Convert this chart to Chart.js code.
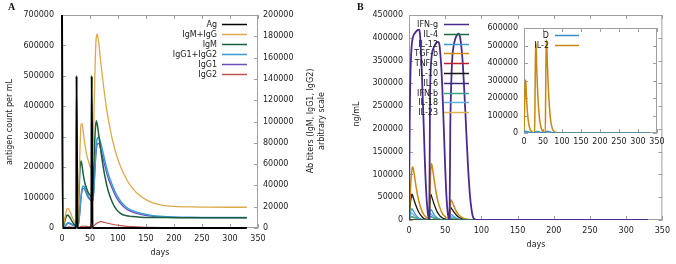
<!DOCTYPE html>
<html>
<head>
<meta charset="utf-8">
<script src="https://cdn.jsdelivr.net/npm/chart.js@4.4.1/dist/chart.umd.min.js"></script>
<style>
  html, body { margin: 0; padding: 0; background: #fff; }
  #wrap { position: relative; width: 676px; height: 264px; overflow: hidden; }
  canvas { position: absolute; }
  .tag { position: absolute; font: bold 10px 'Liberation Serif', serif; color: #111; }
</style>
</head>
<body>
<div id="wrap">
  <canvas id="chartA" width="340" height="264" style="left:0;top:0"></canvas>
  <canvas id="chartB" width="336" height="264" style="left:340px;top:0"></canvas>
  <canvas id="chartInset" width="216" height="170" style="left:460px;top:0"></canvas>
  <div class="tag" style="left:8px;top:1px">A</div>
  <div class="tag" style="left:357px;top:1px">B</div>
</div>
<script>
// ---- panel A: antigen and antibody titers ----
const daysAg = [0, 1.5, 25.5, 26, 27.5, 52.5, 53, 54.5, 330];
const antigen = [700000, 0, 0, 500000, 0, 0, 500000, 0, 0];

const daysAb = [0, 2, 4, 6, 8, 10, 12, 15, 18, 21,
  24, 27, 28, 30, 32, 34, 36, 38, 41, 44,
  47, 50, 54, 55, 57, 59, 61, 63, 65, 67,
  70, 74, 78, 83, 90, 97, 105, 115, 125, 140,
  160, 180, 200, 230, 260, 300, 330];
const igmIgg = [0, 1500, 6000, 12000, 16500, 18500, 17800, 14500, 10500, 7200,
  4800, 3200, 6000, 35000, 72000, 97000, 98000, 90000, 78000, 69000,
  63000, 58000, 55000, 62000, 105000, 150000, 178000, 182000, 176000, 167000,
  152000, 134000, 118000, 101000, 83000, 69000, 57000, 46000, 38000, 30000,
  24000, 21300, 20300, 19800, 19600, 19500, 19500];
const igm = [0, 800, 4000, 8500, 11200, 12200, 11500, 9000, 6200, 4000,
  2500, 1500, 4000, 28000, 55000, 63000, 58000, 50000, 42000, 37000,
  33000, 31000, 29000, 34000, 62000, 88000, 100700, 97000, 90000, 82000,
  70000, 56000, 45000, 34000, 24000, 17500, 13500, 11500, 10800, 10200,
  9900, 9800, 9700, 9700, 9700, 9700, 9700];
const igg1Igg2 = [0, 100, 600, 1800, 3600, 4800, 5000, 4400, 3500, 2600,
  1800, 1300, 1500, 6000, 17000, 30000, 37500, 39400, 37500, 33500,
  30000, 28000, 26300, 27000, 38000, 60000, 76000, 84000, 85000, 83500,
  78000, 69000, 60000, 50000, 40000, 31500, 25000, 19500, 16500, 13800,
  11800, 10800, 10300, 10000, 9900, 9800, 9800];
const igg1 = [0, 100, 500, 1500, 3100, 4100, 4300, 3800, 3000, 2200,
  1500, 1100, 1300, 5300, 15500, 28000, 35500, 37200, 35500, 31800,
  28500, 26600, 25000, 25700, 35500, 56000, 71500, 78500, 79500, 78200,
  72500, 63800, 55300, 46000, 36700, 28800, 22800, 17800, 15100, 12800,
  11100, 10300, 9900, 9700, 9700, 9650, 9650];
const igg2 = [0, 0, 100, 300, 600, 900, 1000, 900, 700, 500,
  400, 300, 300, 500, 900, 1300, 1600, 1700, 1600, 1500,
  1400, 1300, 1200, 1300, 2000, 3000, 4000, 4800, 5400, 5800,
  5900, 5500, 4900, 4300, 3500, 2800, 2200, 1600, 1200, 800,
  500, 350, 250, 180, 150, 120, 100];

// ---- panel B: cytokines ----
const daysIFNg = [0, 1, 2, 3, 4, 5, 6, 8, 10, 12,
  14, 15, 16, 17, 18, 20, 22, 24, 26, 28,
  29, 30, 31, 32, 34, 36, 38, 40, 42, 43,
  44, 45, 46, 48, 50, 52, 54, 56, 57, 58,
  59, 60, 62, 64, 66, 68, 70, 72, 74, 76,
  78, 80, 82, 84, 86, 88, 90, 93, 100, 330];
const ifng = [0, 220000, 320000, 365000, 388000, 398000, 404000, 410000, 414000, 417000,
  418000, 410000, 388000, 352000, 312000, 222000, 125000, 55000, 15000, 1000,
  260000, 330000, 355000, 368000, 378000, 385000, 390000, 391000, 385000, 370000,
  350000, 325000, 290000, 205000, 115000, 45000, 10000, 1000, 200000, 280000,
  330000, 360000, 385000, 398000, 405000, 409000, 405000, 385000, 350000, 295000,
  232000, 165000, 105000, 58000, 27000, 9000, 2500, 300, 0, 0];

const daysPeak = [0, 1, 2, 3, 4, 5, 6, 8, 10, 12, 14, 16, 18, 20, 23, 27, 28, 29, 30, 31, 32,
  34, 36, 38, 40, 42, 44, 47, 51, 55, 56, 57, 58, 59, 61, 63, 65, 67, 70, 75, 82, 90, 330];
const tgfb = [0, 30000, 65000, 92000, 110000, 117000, 112000, 92000, 71000, 53000, 39000, 28000, 19000, 13000,
  7000, 2500, 2000, 60000, 108000, 124000, 118000, 97000, 75000, 56000, 41000, 30000, 21000, 12000,
  6000, 2500, 2000, 30000, 44000, 42000, 35000, 27000, 20000, 14500, 9000, 4000, 1200, 300, 0];
const il10 = [0, 20000, 38000, 50000, 57000, 54000, 49000, 39000, 30000, 22000, 16000, 11000, 7000, 4000,
  1800, 600, 500, 35000, 57000, 53000, 48000, 38000, 29000, 21000, 15000, 10500, 7000, 3800,
  1500, 700, 600, 29000, 27000, 24500, 20000, 15500, 11500, 8500, 5000, 2000, 600, 300, 200];
const il12 = [0, 8000, 16000, 22000, 25000, 23000, 20000, 14000, 9500, 6000, 3800, 2300, 1400, 800,
  400, 200, 200, 15000, 23000, 22000, 19000, 13500, 9000, 6000, 3800, 2400, 1500, 800,
  400, 200, 200, 9000, 12000, 11500, 9000, 6500, 4500, 3000, 1600, 600, 200, 100, 0];
const il18 = [0, 5000, 10000, 13500, 15000, 14000, 12000, 8500, 5800, 3700, 2300, 1400, 850, 500,
  250, 120, 120, 9000, 14000, 13000, 11000, 8000, 5400, 3600, 2300, 1400, 900, 480,
  240, 120, 120, 5500, 7500, 7000, 5500, 4000, 2700, 1800, 1000, 360, 120, 60, 0];
const ifnb = [0, 2500, 5000, 7000, 8000, 7500, 6500, 4800, 3300, 2200, 1400, 900, 550, 320,
  160, 80, 80, 5000, 8000, 7500, 6500, 4700, 3200, 2100, 1400, 900, 550, 300,
  150, 80, 80, 3000, 4200, 4000, 3200, 2300, 1600, 1100, 600, 220, 80, 40, 0];
const il23 = [0, 2000, 4000, 5500, 6200, 6000, 5200, 3800, 2600, 1700, 1100, 700, 420, 250,
  120, 60, 60, 4000, 6200, 6000, 5100, 3700, 2500, 1700, 1100, 700, 430, 230,
  120, 60, 60, 2400, 3300, 3100, 2500, 1800, 1250, 850, 480, 170, 60, 30, 0];
const daysFlat = [0, 330];
const il4 = [0, 0];
const tnfa = [0, 0];
const il6 = [0, 0];

// ---- inset: IL-2 and D ----
const daysIL2 = [0, 1, 2, 3, 4, 5, 6, 8, 10, 12, 14, 16, 18, 20, 24,
  28, 29, 30, 31, 32, 33, 35, 37, 39, 41, 43, 45, 48, 52,
  56, 57, 58, 59, 60, 61, 63, 65, 67, 69, 71, 73, 76, 80, 90, 330];
const il2 = [0, 90000, 190000, 270000, 303000, 285000, 230000, 150000, 95000, 60000, 37000, 22000, 13000, 8000, 3000,
  2000, 200000, 420000, 514000, 490000, 400000, 280000, 190000, 125000, 80000, 50000, 30000, 14000, 5000,
  2000, 220000, 440000, 530000, 505000, 430000, 310000, 215000, 145000, 95000, 60000, 38000, 18000, 7000, 2000, 0];
const daysD = [0, 2, 5, 10, 15, 20, 28, 31, 35, 40, 45, 50, 56, 59, 63, 68, 75, 90, 330];
const dCells = [0, 8000, 10000, 7000, 4000, 2000, 1000, 8000, 9000, 6000, 3000, 1500, 1000, 9000, 10000, 6000, 2000, 500, 0];

const tickFont = { family: 'DejaVu Sans', size: 8 };
const textColor = '#222';

function pts(days, vals) {
  return days.map((d, i) => ({ x: d, y: vals[i] }));
}

function line(label, days, vals, color, width, axis) {
  return {
    label: label,
    data: pts(days, vals),
    borderColor: color,
    backgroundColor: color,
    borderWidth: width || 1.3,
    pointRadius: 0,
    cubicInterpolationMode: 'monotone',
    yAxisID: axis || 'y'
  };
}

function xAxis(height, pad) {
  return {
    type: 'linear', min: 0, max: 350,
    ticks: { stepSize: 50, autoSkip: false, maxRotation: 0, padding: pad, font: tickFont, color: textColor, callback: v => String(v) },
    grid: { display: false, drawTicks: false },
    border: { display: false },
    afterFit: s => { s.height = height; }
  };
}

function yAxis(pos, max, step, width, pad) {
  return {
    type: 'linear', position: pos, min: 0, max: max,
    ticks: { stepSize: step, padding: pad, font: tickFont, color: textColor, callback: v => String(v) },
    grid: { display: false, drawTicks: false },
    border: { display: false },
    afterFit: s => { s.width = width; }
  };
}

// border box with inward tick marks, legend and axis titles
const framePlugin = {
  id: 'frame',
  beforeDatasetsDraw(chart, args, opts) {
    const { ctx, chartArea: a, scales } = chart;
    ctx.save();
    ctx.strokeStyle = '#a0a0a0';
    ctx.lineWidth = 1;
    ctx.strokeRect(a.left + 0.5, a.top + 0.5, a.width - 1, a.height - 1);
    const len = 4;
    ctx.beginPath();
    scales.x.ticks.forEach(t => {
      const px = Math.round(scales.x.getPixelForValue(t.value)) + 0.5;
      ctx.moveTo(px, a.bottom); ctx.lineTo(px, a.bottom - len);
      ctx.moveTo(px, a.top); ctx.lineTo(px, a.top + len);
    });
    const yl = scales[opts.left], yr = scales[opts.right];
    yl.ticks.forEach(t => {
      const py = Math.round(yl.getPixelForValue(t.value)) + 0.5;
      ctx.moveTo(a.left, py); ctx.lineTo(a.left + len, py);
    });
    yr.ticks.forEach(t => {
      const py = Math.round(yr.getPixelForValue(t.value)) + 0.5;
      ctx.moveTo(a.right, py); ctx.lineTo(a.right - len, py);
    });
    ctx.stroke();
    ctx.restore();
  },
  afterDatasetsDraw(chart, args, opts) {
    const ctx = chart.ctx;
    const lg = opts.legend;
    ctx.save();
    ctx.font = "8px 'DejaVu Sans'";
    ctx.fillStyle = textColor;
    ctx.textBaseline = 'middle';
    chart.data.datasets.forEach((ds, i) => {
      const y = Math.round(lg.top + i * lg.step) + 0.5;
      ctx.textAlign = 'right';
      ctx.fillText(ds.label, lg.textRight, y);
      ctx.strokeStyle = ds.borderColor;
      ctx.lineWidth = 1.5;
      ctx.beginPath();
      ctx.moveTo(lg.x1, y);
      ctx.lineTo(lg.x2, y);
      ctx.stroke();
    });
    ctx.textAlign = 'center';
    (opts.titles || []).forEach(t => {
      ctx.save();
      ctx.translate(t.x, t.y);
      ctx.rotate(t.rot || 0);
      ctx.fillText(t.text, 0, 0);
      ctx.restore();
    });
    ctx.restore();
  }
};

const common = {
  responsive: false,
  animation: false,
  devicePixelRatio: 1,
  events: []
};

const agSet = line('Ag', daysAg, antigen, '#000000', 2, 'y');
agSet.clip = false;

new Chart(document.getElementById('chartA'), {
  type: 'line',
  data: {
    datasets: [
      agSet,
      line('IgM+IgG', daysAb, igmIgg, '#dcaa48', 1.3, 'y1'),
      line('IgM', daysAb, igm, '#1a5e3a', 1.5, 'y1'),
      line('IgG1+IgG2', daysAb, igg1Igg2, '#3c9bd6', 1.5, 'y1'),
      line('IgG1', daysAb, igg1, '#6a50b8', 1.3, 'y1'),
      line('IgG2', daysAb, igg2, '#c0504a', 1.2, 'y1')
    ]
  },
  options: {
    ...common,
    layout: { padding: { top: 15, left: 0, right: 0, bottom: 0 } },
    scales: {
      x: xAxis(36, 6),
      y: yAxis('left', 700000, 100000, 62, 8),
      y1: yAxis('right', 200000, 20000, 82, 5)
    },
    plugins: {
      legend: { display: false },
      tooltip: { enabled: false },
      frame: {
        left: 'y', right: 'y1',
        legend: { textRight: 217, x1: 222, x2: 247, top: 24, step: 9.9 },
        titles: [
          { text: 'antigen count per mL', x: 10, y: 122, rot: -Math.PI / 2 },
          { text: 'Ab titers (IgM, IgG1, IgG2)', x: 311, y: 121, rot: -Math.PI / 2 },
          { text: 'arbitrary scale', x: 322, y: 121, rot: -Math.PI / 2 },
          { text: 'days', x: 160, y: 253 }
        ]
      }
    }
  },
  plugins: [framePlugin]
});

new Chart(document.getElementById('chartB'), {
  type: 'line',
  data: {
    datasets: [
      line('IFN-g', daysIFNg, ifng, '#4a2a8e', 1.8),
      line('IL-4', daysFlat, il4, '#1f6b3e', 1.3),
      line('IL-12', daysPeak, il12, '#3d9ad0', 1.3),
      line('TGF-b', daysPeak, tgfb, '#d08a10', 1.5),
      line('TNF-a', daysFlat, tnfa, '#c0202a', 1.3),
      line('IL-10', daysPeak, il10, '#151515', 1.3),
      line('IL-6', daysFlat, il6, '#3c2c78', 1.3),
      line('IFN-b', daysPeak, ifnb, '#35a88a', 1.2),
      line('IL-18', daysPeak, il18, '#60b0e0', 1.2),
      line('IL-23', daysPeak, il23, '#e0b050', 1.2)
    ]
  },
  options: {
    ...common,
    layout: { padding: { top: 15, left: 0, right: 13, bottom: 0 } },
    scales: {
      x: xAxis(44, 6),
      y: yAxis('left', 450000, 50000, 69, 6)
    },
    plugins: {
      legend: { display: false },
      tooltip: { enabled: false },
      frame: {
        left: 'y', right: 'y',
        legend: { textRight: 98, x1: 104, x2: 129, top: 24, step: 9.8 },
        titles: [
          { text: 'ng/mL', x: 17, y: 114, rot: -Math.PI / 2 },
          { text: 'days', x: 196, y: 245 }
        ]
      }
    }
  },
  plugins: [framePlugin]
});

new Chart(document.getElementById('chartInset'), {
  type: 'line',
  data: {
    datasets: [
      line('D', daysD, dCells, '#3a8fc8', 1.4),
      line('IL-2', daysIL2, il2, '#c8860e', 1.5)
    ]
  },
  options: {
    ...common,
    layout: { padding: { top: 28, left: 0, right: 19, bottom: 0 } },
    scales: {
      x: xAxis(37, 4),
      y: yAxis('left', 600000, 100000, 64, 6)
    },
    plugins: {
      legend: { display: false },
      tooltip: { enabled: false },
      frame: {
        left: 'y', right: 'y',
        legend: { textRight: 89, x1: 95, x2: 119, top: 35, step: 10 },
        titles: []
      }
    }
  },
  plugins: [framePlugin]
});
</script>
</body>
</html>
